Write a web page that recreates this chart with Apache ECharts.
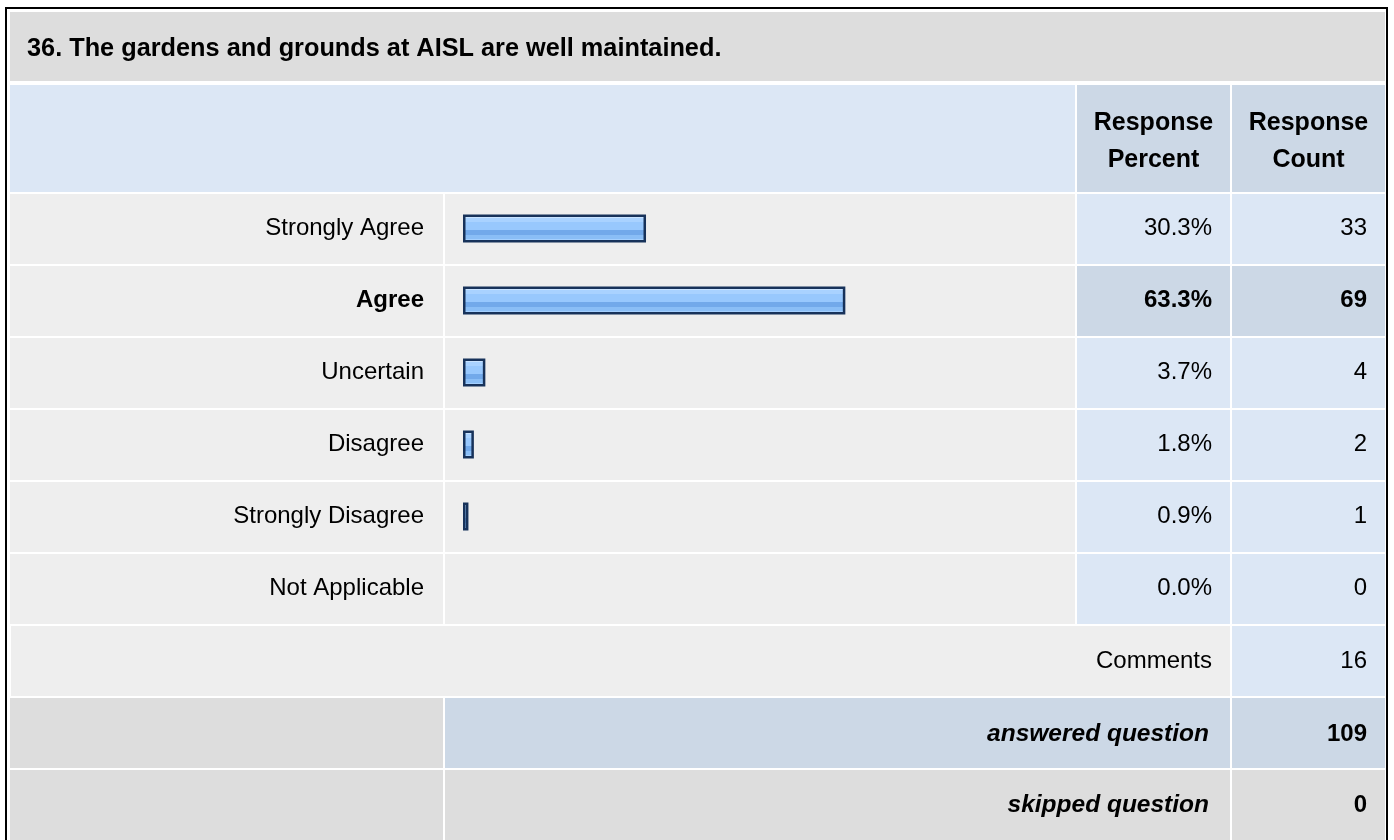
<!DOCTYPE html>
<html>
<head>
<meta charset="utf-8">
<script src="https://cdn.jsdelivr.net/npm/echarts@6/dist/echarts.min.js"></script>
<style>
html,body{margin:0;padding:0;background:#fff;}
#chart{width:1394px;height:840px;}
</style>
</head>
<body>
<div id="chart"></div>
<script>
// ---- data ----
const questionTitle = '36. The gardens and grounds at AISL are well maintained.';
const categories = ['Strongly Agree', 'Agree', 'Uncertain', 'Disagree', 'Strongly Disagree', 'Not Applicable'];
const responsePercent = [30.3, 63.3, 3.7, 1.8, 0.9, 0.0];
const responseCount = [33, 69, 4, 2, 1, 0];
const highlightIndex = 1; // most chosen answer, shown bold
const headerLabels = ['Response\nPercent', 'Response\nCount'];
const commentsLabel = 'Comments';
const commentsCount = 16;
const answeredLabel = 'answered question';
const answeredCount = 109;
const skippedLabel = 'skipped question';
const skippedCount = 0;

// ---- layout / style ----
const FONT = 'Liberation Sans';
const FS = 24;
const C_GRAY = '#dddddd', C_ROW = '#eeeeee', C_LB = '#dce7f5', C_BG = '#ccd8e6';
const colA = [10, 433], colB = [445, 630], colC = [1077, 153], colD = [1232, 153];
const rowTop = 194, pitch = 72, rowH = 70;
const gridLeft = 463, gridWidth = 604;

const graphics = [];
function rect(x, y, w, h, fill) {
  graphics.push({type: 'rect', z: 0, silent: true, shape: {x, y, width: w, height: h}, style: {fill}});
}
function text(x, y, str, opt) {
  graphics.push({type: 'text', z: 5, silent: true, x, y, style: Object.assign({
    text: str, fill: '#000', fontFamily: FONT, fontSize: FS, fontWeight: 'normal', fontStyle: 'normal',
    textAlign: 'right', textVerticalAlign: 'middle'
  }, opt || {})});
}

// title + header
rect(10, 12, 1375, 69, C_GRAY);
text(27, 49, questionTitle, {fontWeight: 'bold', fontSize: 25.3, textAlign: 'left'});
rect(10, 85, 1065, 107, C_LB);
rect(colC[0], 85, colC[1], 107, C_BG);
rect(colD[0], 85, colD[1], 107, C_BG);
headerLabels.forEach((h, k) => {
  const col = k === 0 ? colC : colD;
  const lines = h.split('\n');
  lines.forEach((ln, j) => text(col[0] + col[1] / 2, 123 + j * 37, ln, {fontWeight: 'bold', fontSize: 25, textAlign: 'center'}));
});
// data rows
categories.forEach((c, i) => {
  const y = rowTop + i * pitch;
  const cc = i === highlightIndex ? C_BG : C_LB;
  rect(colA[0], y, colA[1], rowH, C_ROW);
  rect(colB[0], y, colB[1], rowH, C_ROW);
  rect(colC[0], y, colC[1], rowH, cc);
  rect(colD[0], y, colD[1], rowH, cc);
});
// comments row
let y6 = rowTop + 6 * pitch;
rect(11, y6, 1219, rowH, C_ROW);
rect(colD[0], y6, colD[1], rowH, C_LB);
text(1212, y6 + rowH / 2, commentsLabel);
text(1367, y6 + rowH / 2, String(commentsCount));
// answered row
let y7 = rowTop + 7 * pitch;
rect(colA[0], y7, colA[1], rowH, C_GRAY);
rect(colB[0], y7, 785, rowH, C_BG);
rect(colD[0], y7, colD[1], rowH, C_BG);
text(1209, y7 + rowH / 2 + 1, answeredLabel, {fontWeight: 'bold', fontStyle: 'italic', fontSize: 24.5});
text(1367, y7 + rowH / 2 + 1, String(answeredCount), {fontWeight: 'bold'});
// skipped row
let y8 = rowTop + 8 * pitch;
rect(colA[0], y8, colA[1], rowH, C_GRAY);
rect(colB[0], y8, 785, rowH, C_GRAY);
rect(colD[0], y8, colD[1], rowH, C_GRAY);
text(1209, y8 + rowH / 2, skippedLabel, {fontWeight: 'bold', fontStyle: 'italic', fontSize: 24.5});
text(1367, y8 + rowH / 2, String(skippedCount), {fontWeight: 'bold'});
// outer frame
graphics.push({type: 'rect', z: 20, silent: true, shape: {x: 6, y: 8, width: 1381, height: 850},
  style: {fill: 'none', stroke: '#000', lineWidth: 2}});

const barGradient = {
  type: 'linear', x: 0, y: 0, x2: 0, y2: 1,
  colorStops: [
    {offset: 0, color: '#c9e3ff'}, {offset: 0.14, color: '#c9e3ff'},
    {offset: 0.14, color: '#a9d2ff'}, {offset: 0.28, color: '#a9d2ff'},
    {offset: 0.28, color: '#98c8fd'}, {offset: 0.56, color: '#98c8fd'},
    {offset: 0.56, color: '#72a9ea'}, {offset: 0.74, color: '#72a9ea'},
    {offset: 0.74, color: '#8abef6'}, {offset: 0.88, color: '#8abef6'},
    {offset: 0.88, color: '#a5d0fe'}, {offset: 1, color: '#a5d0fe'}
  ]
};

const rich = {
  n: {fontFamily: FONT, fontSize: FS, color: '#000'},
  b: {fontFamily: FONT, fontSize: FS, color: '#000', fontWeight: 'bold'}
};
function fmt(v, idx) {
  return (idx === highlightIndex ? '{b|' : '{n|') + v + '}';
}
const plainAxis = {axisLine: {show: false}, axisTick: {show: false}, splitLine: {show: false}};

const option = {
  animation: false,
  backgroundColor: '#ffffff',
  graphic: {elements: graphics},
  grid: {left: gridLeft, width: gridWidth, top: rowTop - 1.5, height: pitch * categories.length},
  xAxis: Object.assign({type: 'value', min: 0, max: 100, show: false}, plainAxis),
  yAxis: [
    Object.assign({type: 'category', inverse: true, data: categories, position: 'left',
      axisLabel: {margin: 39, interval: 0, formatter: fmt, rich}}, plainAxis),
    Object.assign({type: 'category', inverse: true, data: responsePercent.map(p => p.toFixed(1) + '%'), position: 'right',
      offset: 1212 - (gridLeft + gridWidth),
      axisLabel: {margin: 0, align: 'right', interval: 0, formatter: fmt, rich}}, plainAxis),
    Object.assign({type: 'category', inverse: true, data: responseCount.map(String), position: 'right',
      offset: 1367 - (gridLeft + gridWidth),
      axisLabel: {margin: 0, align: 'right', interval: 0, formatter: fmt, rich}}, plainAxis)
  ],
  series: [{
    type: 'bar',
    z: 10,
    yAxisIndex: 0,
    barWidth: 28,
    silent: true,
    itemStyle: {color: barGradient, borderColor: '#17325a', borderWidth: 2.5},
    data: responsePercent.map(v => v > 0 ? v : {value: v, itemStyle: {opacity: 0, borderWidth: 0}})
  }]
};

const chart = echarts.init(document.getElementById('chart'), null, {renderer: 'canvas'});
chart.setOption(option);
</script>
</body>
</html>
